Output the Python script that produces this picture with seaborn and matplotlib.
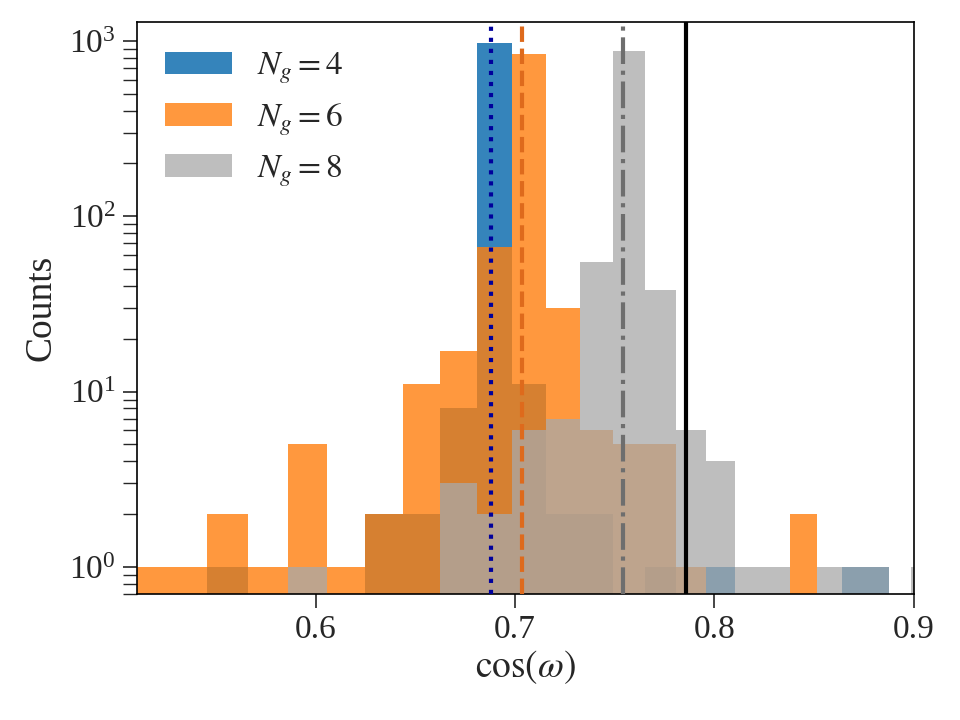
import numpy as np
import pandas as pd
import matplotlib
matplotlib.use("Agg")
import matplotlib.pyplot as plt
import seaborn as sns

# Common bins: uniform in omega (degrees), shown in cos(omega)
BIN_WIDTH_DEG = 90 / 64
FIRST_EDGE_DEG = 42.5 * BIN_WIDTH_DEG
N_BINS = 25

# Counts per bin (in increasing cos(omega) order)
counts_ng4 = [0, 0, 1, 0, 0, 0, 2, 2, 8, 968, 11, 2, 2, 0, 1, 0, 1, 0, 0, 0, 0, 1, 1, 0, 0]
counts_ng6 = [1, 1, 2, 1, 5, 1, 2, 11, 17, 67, 843, 30, 6, 5, 5, 1, 0, 0, 0, 2, 0, 0, 0, 0, 0]
counts_ng8 = [0, 0, 0, 0, 1, 0, 0, 0, 3, 2, 6, 7, 55, 872, 38, 6, 4, 1, 1, 0, 1, 1, 1, 0, 1]

labels = [r"$N_g=4$", r"$N_g=6$", r"$N_g=8$"]
colors = ["#1f77b4", "#ff7f0e", "#a9a9a9"]
alphas = [0.9, 0.8, 0.75]

# Reference vertical lines (cos(omega))
vline_x = [0.6877, 0.7034, 0.7543, 0.7858]
vline_colors = ["#00009c", "#de6a1c", "#6e6e6e", "black"]
vline_styles = [":", "--", "-.", "-"]

xticks = [0.6, 0.7, 0.8, 0.9]

sns.set_style("ticks")
plt.rcParams["font.family"] = ["Liberation Serif", "DejaVu Serif"]
plt.rcParams["mathtext.fontset"] = "stix"

omega_edges = np.deg2rad(FIRST_EDGE_DEG - BIN_WIDTH_DEG * np.arange(N_BINS + 1))
edges = [float(e) for e in np.cos(omega_edges)]
centers = [0.5 * (edges[i] + edges[i + 1]) for i in range(N_BINS)]

fig = plt.figure(figsize=(9.6, 7.2), dpi=100)
ax = fig.add_axes([0.1424, 0.175, 0.8092, 0.7944])

for cnt, lab, col, a in zip([counts_ng4, counts_ng6, counts_ng8], labels, colors, alphas):
    df = pd.DataFrame({"cosw": centers, "n": cnt})
    sns.histplot(data=df, x="cosw", weights="n", bins=edges, color=col, alpha=a,
                 linewidth=0, edgecolor="none", ax=ax, label=lab)

ax.set_yscale("log")
for xv, c, ls in zip(vline_x, vline_colors, vline_styles):
    ax.axvline(xv, color=c, linestyle=ls, linewidth=3, zorder=5)

ax.set_xlim(0.51, 0.9)
ax.set_ylim(0.7, 1280)
ax.set_xticks(xticks)
ax.set_xticklabels([f"{t:.1f}" for t in xticks])
ax.set_xlabel(r"$\cos(\omega)$", fontsize=27, labelpad=2)
ax.set_ylabel("Counts", fontsize=27, labelpad=8)
ax.tick_params(axis="both", which="major", labelsize=24, length=10, width=1.2,
               pad=5, direction="out")
ax.tick_params(axis="y", which="minor", length=10, width=1.0, direction="out")
for s in ax.spines.values():
    s.set_visible(True)
    s.set_linewidth(1.2)
    s.set_color("black")

ax.legend(loc="upper left", frameon=False, fontsize=24, handlelength=2.0,
          handleheight=0.66, labelspacing=0.46, borderaxespad=0.45,
          handletextpad=0.75)

fig.savefig("out.png", dpi=100)
